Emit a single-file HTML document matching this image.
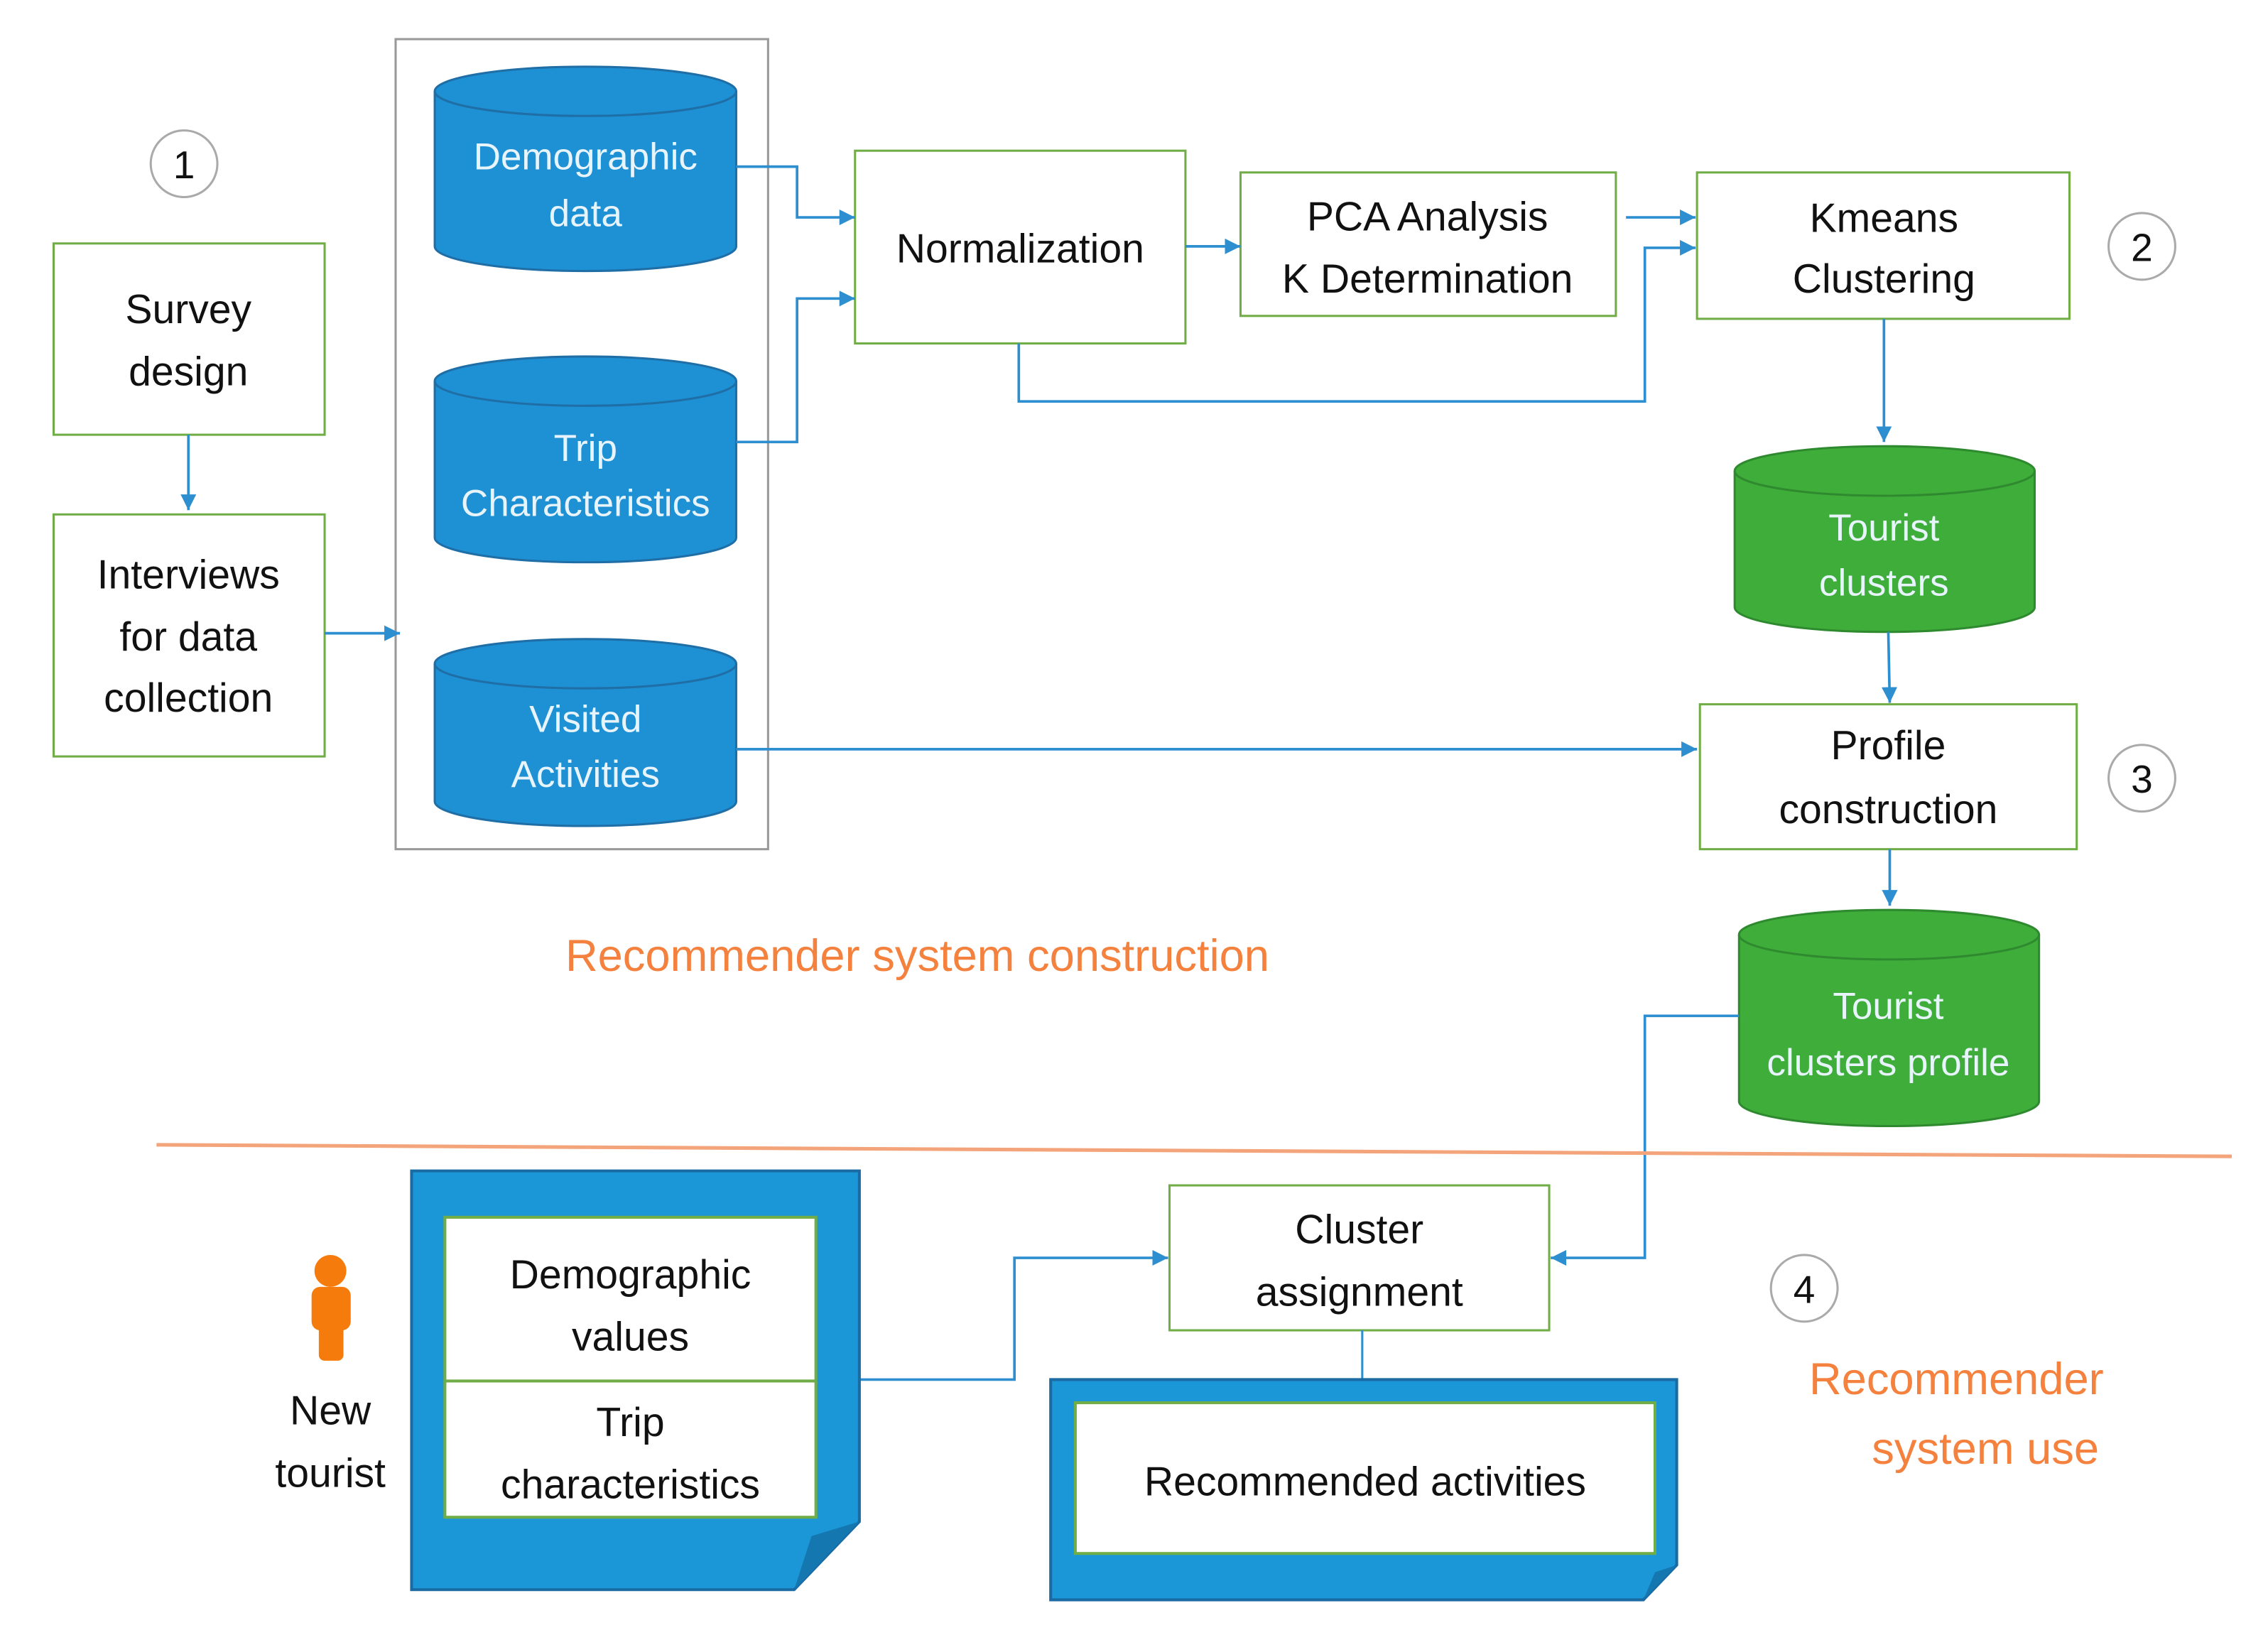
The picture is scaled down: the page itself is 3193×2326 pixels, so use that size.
<!DOCTYPE html>
<html><head><meta charset="utf-8"><style>
html,body{margin:0;padding:0;background:#fff;}
svg{display:block;}
text{font-family:"Liberation Sans",sans-serif;}
</style></head><body>
<svg width="3193" height="2326" viewBox="0 0 1565 1140" preserveAspectRatio="none" xmlns="http://www.w3.org/2000/svg">
<defs>
<marker id="a" viewBox="0 0 10 10" refX="10" refY="5" markerWidth="6" markerHeight="6" orient="auto"><path d="M0,0L10,5L0,10z" fill="#2e8fd0"/></marker>
</defs>
<rect width="1565" height="1140" fill="#fff"/>
<g fill="none" stroke="#aaa" stroke-width="1.5">
<circle cx="127" cy="113" r="23"/><circle cx="1478" cy="170" r="23"/><circle cx="1478" cy="537" r="23"/><circle cx="1245" cy="889" r="23"/>
</g>
<g font-size="27" text-anchor="middle" fill="#111">
<text x="127" y="123">1</text><text x="1478" y="180">2</text><text x="1478" y="547">3</text><text x="1245" y="899">4</text>
</g>
<rect x="273" y="27" width="257" height="559" fill="none" stroke="#999" stroke-width="1.5"/>
<g fill="#fff" stroke="#70ad47" stroke-width="1.5">
<rect x="37" y="168" width="187" height="132"/>
<rect x="37" y="355" width="187" height="167"/>
<rect x="590" y="104" width="228" height="133"/>
<rect x="856" y="119" width="259" height="99"/>
<rect x="1171" y="119" width="257" height="101"/>
<rect x="1173" y="486" width="260" height="100"/>
<rect x="807" y="818" width="262" height="100"/>
</g>
<g stroke="#1f6ea6" stroke-width="1.5" fill="#1e90d4">
<path d="M300,63 L300,170 A104,17 0 0 0 508,170 L508,63 A104,17 0 0 0 300,63z"/><path d="M300,63 A104,17 0 0 0 508,63" fill="none"/>
<path d="M300,263 L300,371 A104,17 0 0 0 508,371 L508,263 A104,17 0 0 0 300,263z"/><path d="M300,263 A104,17 0 0 0 508,263" fill="none"/>
<path d="M300,458 L300,553 A104,17 0 0 0 508,553 L508,458 A104,17 0 0 0 300,458z"/><path d="M300,458 A104,17 0 0 0 508,458" fill="none"/>
</g>
<g stroke="#2f8a2f" stroke-width="1.5" fill="#3fad3a">
<path d="M1197,325 L1197,419 A103,17 0 0 0 1404,419 L1404,325 A103,17 0 0 0 1197,325z"/><path d="M1197,325 A103,17 0 0 0 1404,325" fill="none"/>
<path d="M1200,645 L1200,760 A103,17 0 0 0 1407,760 L1407,645 A103,17 0 0 0 1200,645z"/><path d="M1200,645 A103,17 0 0 0 1407,645" fill="none"/>
</g>
<g font-size="26" text-anchor="middle" fill="#e8f4fc">
<text x="404" y="117">Demographic</text><text x="404" y="156">data</text>
<text x="404" y="318">Trip</text><text x="404" y="356">Characteristics</text>
<text x="404" y="505">Visited</text><text x="404" y="543">Activities</text>
<text x="1300" y="373">Tourist</text><text x="1300" y="411">clusters</text>
<text x="1303" y="703">Tourist</text><text x="1303" y="742">clusters profile</text>
</g>
<g font-size="28" text-anchor="middle" fill="#111">
<text x="130" y="223">Survey</text><text x="130" y="266">design</text>
<text x="130" y="406">Interviews</text><text x="130" y="449">for data</text><text x="130" y="491">collection</text>
<text x="704" y="181">Normalization</text>
<text x="985" y="159">PCA Analysis</text><text x="985" y="202">K Determination</text>
<text x="1300" y="160">Kmeans</text><text x="1300" y="202">Clustering</text>
<text x="1303" y="524">Profile</text><text x="1303" y="568">construction</text>
<text x="938" y="858">Cluster</text><text x="938" y="901">assignment</text>
<text x="228" y="983">New</text><text x="228" y="1026">tourist</text>
</g>
<g fill="none" stroke="#2e8fd0" stroke-width="1.8" marker-end="url(#a)">
<path d="M130,300V352"/>
<path d="M224,437H276"/>
<path d="M508,115H550V150H590"/>
<path d="M508,305H550V206H590"/>
<path d="M818,170H856"/>
<path d="M1122,150H1170"/>
<path d="M703,237V277H1135V171H1170"/>
<path d="M1300,220V305"/>
<path d="M1303,436L1304,485"/>
<path d="M508,517H1171"/>
<path d="M1304,586V625"/>
<path d="M1200,701H1135V868H1070"/>
<path d="M593,952H700V868H806"/>
</g>
<path d="M940,918V952" stroke="#2e8fd0" stroke-width="1.5"/>
<text x="633" y="670" font-size="31" text-anchor="middle" fill="#f4813d">Recommender system construction</text>
<path d="M108,790L1540,798" stroke="#f4a47a" stroke-width="2.5"/>
<text x="1350" y="962" font-size="31" text-anchor="middle" fill="#f4813d">Recommender</text>
<text x="1370" y="1010" font-size="31" text-anchor="middle" fill="#f4813d">system use</text>
<g fill="#f57c0c">
<circle cx="228" cy="877" r="11"/>
<rect x="215" y="888" width="27" height="30" rx="6"/>
<rect x="220" y="905" width="17" height="34" rx="4"/>
</g>
<path d="M284,808H593V1050L548,1097H284z" fill="#1b96d6" stroke="#1a6ba3" stroke-width="2"/>
<path d="M593,1050L548,1097L560,1060z" fill="#1577b0"/>
<rect x="307" y="840" width="256" height="207" fill="#fff" stroke="#70ad47" stroke-width="2"/>
<path d="M307,953H563" stroke="#70ad47" stroke-width="2"/>
<g font-size="28" text-anchor="middle" fill="#111">
<text x="435" y="889">Demographic</text><text x="435" y="932">values</text>
<text x="435" y="991">Trip</text><text x="435" y="1034">characteristics</text>
</g>
<path d="M725,952H1157V1080L1134,1104H725z" fill="#1b96d6" stroke="#1a6ba3" stroke-width="2"/>
<path d="M1157,1080L1134,1104L1142,1085z" fill="#1577b0"/>
<rect x="742" y="968" width="400" height="104" fill="#fff" stroke="#70ad47" stroke-width="2"/>
<text x="942" y="1032" font-size="28" text-anchor="middle" fill="#111">Recommended activities</text>
</svg>
</body></html>
